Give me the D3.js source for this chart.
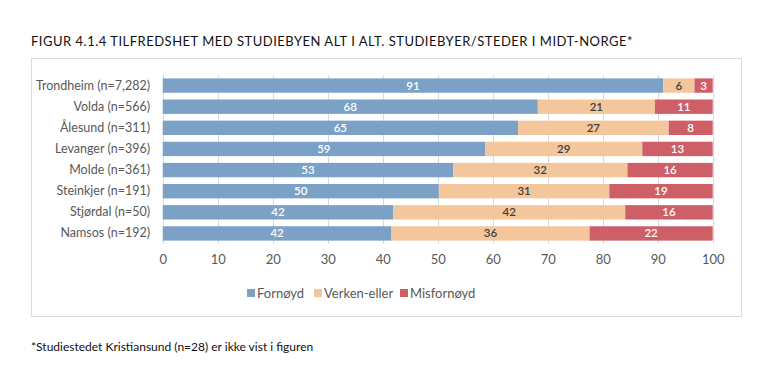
<!DOCTYPE html>
<html>
<head>
<meta charset="utf-8">
<script src="https://cdn.jsdelivr.net/npm/d3@7"></script>
<style>
  body { margin: 0; background: #fff; }
  text { font-family: Lato, "Open Sans", sans-serif; }
</style>
</head>
<body>
<div id="chart-area"></div>
<script>
// data (percent)
var categories = ["Trondheim (n=7,282)", "Volda (n=566)", "Ålesund (n=311)", "Levanger (n=396)",
  "Molde (n=361)", "Steinkjer (n=191)", "Stjørdal (n=50)", "Namsos (n=192)"];
var fornoyd    = [91.0, 68.2, 64.6, 58.6, 52.8, 50.2, 41.9, 41.6];
var verken     = [5.7, 21.3, 27.4, 28.6, 31.7, 31.0, 42.2, 36.0];
var misfornoyd = [3.3, 10.5, 8.0, 12.8, 15.5, 18.8, 15.9, 22.4];
var seriesNames = ["Fornøyd", "Verken-eller", "Misfornøyd"];
var xTicks = [0, 10, 20, 30, 40, 50, 60, 70, 80, 90, 100];

var colors = ["#7ba1c7", "#f4c69c", "#cf5f67"];
var labelColors = ["#ffffff", "#404040", "#ffffff"];

var rows = categories.map(function(c, i) {
  return { cat: c, "Fornøyd": fornoyd[i], "Verken-eller": verken[i], "Misfornøyd": misfornoyd[i] };
});
var stacked = d3.stack().keys(seriesNames)(rows);

var svg = d3.select("#chart-area")
  .append("svg")
  .attr("width", 768)
  .attr("height", 386);

// title
svg.append("text")
  .attr("x", 31)
  .attr("y", 46)
  .attr("font-size", "13px")
  .attr("letter-spacing", "0.5px")
  .attr("fill", "#111")
  .text("FIGUR 4.1.4 TILFREDSHET MED STUDIEBYEN ALT I ALT. STUDIEBYER/STEDER I MIDT-NORGE*");

// frame
svg.append("rect")
  .attr("x", 31.5)
  .attr("y", 58.5)
  .attr("width", 710)
  .attr("height", 258)
  .attr("fill", "none")
  .attr("stroke", "#dcdcdc")
  .attr("stroke-width", 1);

var x = d3.scaleLinear().domain([0, 100]).range([162.7, 712.7]);
var y = d3.scaleBand().domain(categories).range([75, 244]).paddingInner(0.32).paddingOuter(0.16);

// gridlines
svg.append("g")
  .selectAll("line")
  .data(xTicks)
  .enter().append("line")
  .attr("x1", function(d) { return Math.round(x(d)) + 0.5; })
  .attr("x2", function(d) { return Math.round(x(d)) + 0.5; })
  .attr("y1", 75)
  .attr("y2", 244)
  .attr("stroke", "#d9d9d9")
  .attr("stroke-width", 1);

// x axis labels
var xAxis = svg.append("g")
  .attr("transform", "translate(0,244)")
  .call(d3.axisBottom(x).tickValues(xTicks).tickSize(0).tickPadding(11));
xAxis.select(".domain").remove();
xAxis.selectAll("text")
  .attr("font-family", "Lato, 'Open Sans', sans-serif")
  .attr("font-size", "13px")
  .attr("fill", "#595959");

// category labels
var yAxis = svg.append("g")
  .attr("transform", "translate(162,0)")
  .call(d3.axisLeft(y).tickSize(0).tickPadding(12));
yAxis.select(".domain").remove();
yAxis.selectAll("text")
  .attr("font-family", "Lato, 'Open Sans', sans-serif")
  .attr("font-size", "12.5px")
  .attr("fill", "#595959");

// bars
var layers = svg.append("g")
  .selectAll("g")
  .data(stacked)
  .enter().append("g")
  .attr("fill", function(d, i) { return colors[i]; });

layers.selectAll("rect")
  .data(function(d) { return d; })
  .enter().append("rect")
  .attr("x", function(d) { return x(d[0]); })
  .attr("y", function(d) { return y(d.data.cat); })
  .attr("width", function(d) { return x(d[1]) - x(d[0]); })
  .attr("height", y.bandwidth());

// value labels
layers.each(function(s, i) {
  d3.select(this).selectAll("text")
    .data(s)
    .enter().append("text")
    .attr("x", function(d) { return (x(d[0]) + x(d[1])) / 2; })
    .attr("y", function(d) { return y(d.data.cat) + y.bandwidth() / 2; })
    .attr("dy", "0.35em")
    .attr("text-anchor", "middle")
    .attr("font-size", "11.5px")
    .attr("font-weight", "600")
    .attr("fill", labelColors[i])
    .text(function(d) { return d3.format(".0f")(d[1] - d[0]); });
});

// legend
var legendX = [247, 314, 400];
var legend = svg.append("g")
  .selectAll("g")
  .data(seriesNames)
  .enter().append("g")
  .attr("transform", function(d, i) { return "translate(" + legendX[i] + ",293)"; });
legend.append("rect")
  .attr("x", 0)
  .attr("y", -4)
  .attr("width", 8)
  .attr("height", 8)
  .attr("fill", function(d, i) { return colors[i]; });
legend.append("text")
  .attr("x", 10)
  .attr("y", 0)
  .attr("dy", "0.35em")
  .attr("font-size", "13px")
  .attr("fill", "#595959")
  .text(function(d) { return d; });

// footnote
svg.append("text")
  .attr("x", 31)
  .attr("y", 351)
  .attr("font-size", "12px")
  .attr("fill", "#111")
  .text("*Studiestedet Kristiansund (n=28) er ikke vist i figuren");
</script>
</body>
</html>
